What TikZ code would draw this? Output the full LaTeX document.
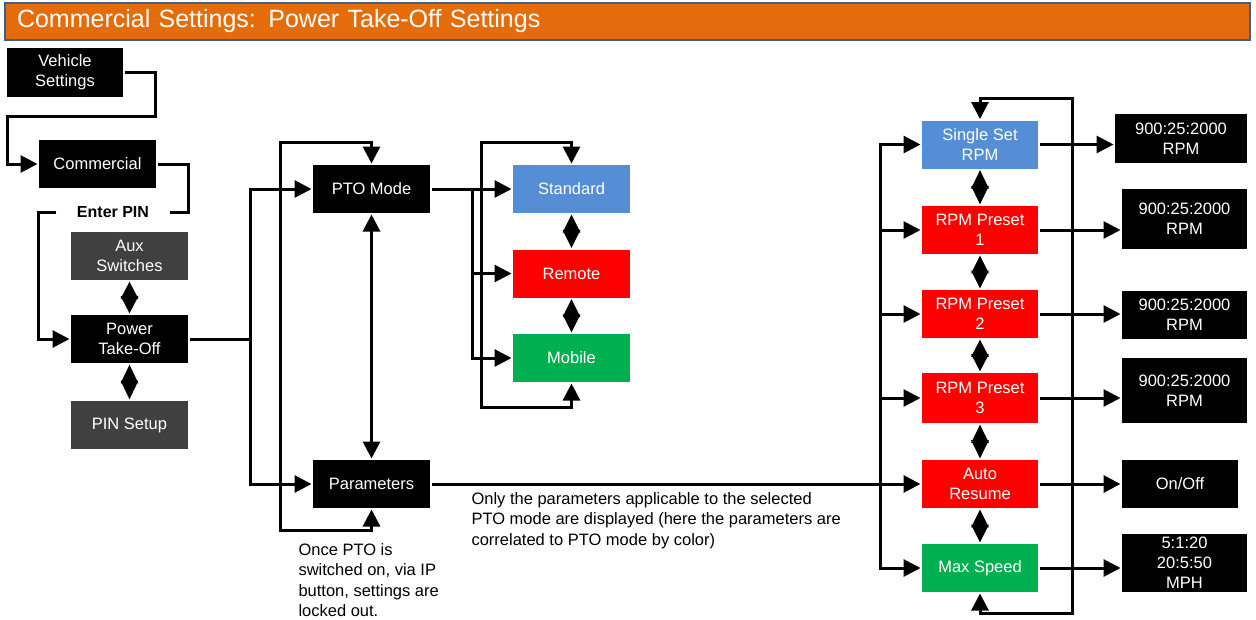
\documentclass[tikz,border=0pt]{standalone}
\usepackage{fontspec}
\setmainfont{Liberation Sans}
\usetikzlibrary{arrows.meta}
\definecolor{ttlorange}{HTML}{E46C0A}
\definecolor{ttlblue}{HTML}{3E5F8A}
\definecolor{darkgrey}{HTML}{404040}
\definecolor{stdblue}{HTML}{558ED5}
\definecolor{remred}{HTML}{FF0000}
\definecolor{mobgreen}{HTML}{00B050}
\tikzset{
    block/.style = {
        shape=rectangle,
        fill=black,
        text=white,
        minimum height=48pt,
        minimum width=117pt,
        inner sep=0pt,
        align=center,
        font=\fontsize{16.5}{20}\selectfont
    },
    greyblock/.style = {block, fill=darkgrey},
    stdblock/.style = {block, fill=stdblue},
    remblock/.style = {block, fill=remred},
    mobblock/.style = {block, fill=mobgreen},
    value/.style = {block, minimum width=125pt},
    header/.style = {
        shape=rectangle,
        fill=ttlorange,
        draw=ttlblue,
        line width=2.5pt,
        minimum width=1245pt,
        minimum height=37pt,
        text width=1221pt,
        inner xsep=12pt,
        inner ysep=0pt,
        align=left,
        text=white,
        font=\fontsize{25}{29}\selectfont
    },
    pinlabel/.style = {
        inner xsep=19pt,
        inner ysep=2pt,
        font=\bfseries\fontsize{16}{19}\selectfont
    },
    note/.style = {
        align=left,
        inner sep=0pt,
        anchor=north west,
        font=\fontsize{16.5}{20.5}\selectfont
    },
    diam/.style = {
        {Triangle[length=#1,width=17pt]}-{Triangle[length=#1,width=17pt]}
    },
    diam/.default=17pt,
    >={Triangle[length=17pt,width=17pt]},
}

\begin{document}
\begin{tikzpicture}[x=1pt, y=-1pt, line width=3pt]
            \useasboundingbox (0,0) rectangle (1256,619);

            \node[header] (title) at (627.5,21.5) {Commercial Settings: Power Take-Off Settings};

            \node[block] (veh) at (65,72.5) [minimum width=116pt, minimum height=49pt] {Vehicle\\Settings};
            \node[block] (com) at (97.5,164) {Commercial};
            \node[pinlabel] (enterpin) at (113,212) {Enter PIN};
            \node[greyblock] (aux) at (129.5,256) {Aux\\Switches};
            \node[block] (pto) at (129.5,339) {Power\\Take-Off};
            \node[greyblock] (pinset) at (129.5,425) {PIN Setup};

            \node[block] (ptomode) at (371.5,189) {PTO Mode};
            \node[block] (params) at (371.5,484) {Parameters};

            \node[stdblock] (standard) at (571.5,189) {Standard};
            \node[remblock] (remote) at (571.5,273.5) {Remote};
            \node[mobblock] (mobile) at (571.5,358) {Mobile};

            \node[stdblock] (single) at (980,144.5) [minimum width=116pt] {Single Set\\RPM};
            \node[remblock] (pre1) at (980,230) [minimum width=116pt] {RPM Preset\\1};
            \node[remblock] (pre2) at (980,314) [minimum width=116pt] {RPM Preset\\2};
            \node[remblock] (pre3) at (980,398) [minimum width=116pt, minimum height=50pt] {RPM Preset\\3};
            \node[remblock] (autores) at (980,484) [minimum width=116pt] {Auto\\Resume};
            \node[mobblock] (maxspeed) at (980,568) [minimum width=116pt] {Max Speed};

            \node[value] (val1) at (1181,138.5) [minimum width=132pt, minimum height=49pt] {900:25:2000\\RPM};
            \node[value] (val2) at (1184.5,219) [minimum height=60pt] {900:25:2000\\RPM};
            \node[value] (val3) at (1184.5,314.5) {900:25:2000\\RPM};
            \node[value] (val4) at (1184.5,390.5) [minimum height=65pt] {900:25:2000\\RPM};
            \node[block] (onoff) at (1180,484) [minimum width=116pt] {On/Off};
            \node[value] (mph) at (1184.5,563) [minimum height=58pt] {5:1:20\\20:5:50\\MPH};

            \node[note] (lockout) at (297,542) {Once PTO is\\switched on, via IP\\button, settings are\\locked out.};
            \node[note] (bycolor) at (470,491) {Only the parameters applicable to the selected\\PTO mode are displayed (here the parameters are\\correlated to PTO mode by color)};

            \coordinate (vehr) at (155,116);
            \coordinate (vehl) at (7,116);
            \coordinate (comr) at (188,212);
            \coordinate (pinl) at (38,339);
            \coordinate (split) at (250,339);
            \coordinate (ltop) at (280,142);
            \coordinate (lbot) at (280,530);
            \coordinate (mbr) at (472,189);
            \coordinate (mtop) at (481,142);
            \coordinate (mbot) at (481,407);
            \coordinate (rsplit) at (880,484);
            \coordinate (rtop) at (1072,98);
            \coordinate (rbot) at (1072,613);

            % left column
            \path[draw, ->] (veh) -| (vehr) -- (vehl) |- (com);
            \path[draw] (com) -| (comr) -- (enterpin);
            \path[draw, ->] (enterpin) -| (pinl) -- (pto);
            \path[draw, diam=17.4pt] (aux) -- (pto);
            \path[draw, diam=18.9pt] (pto) -- (pinset);

            % pto mode / parameters
            \path[draw] (pto) -- (split);
            \path[draw, ->] (split) |- (ptomode);
            \path[draw, ->] (split) |- (params);
            \path[draw, <->] (ptomode) |- (ltop) -- (lbot) -| (params);
            \path[draw, <->] (ptomode) -- (params);

            % modes
            \path[draw, ->] (ptomode) -- (standard);
            \path[draw, ->] (mbr) |- (remote);
            \path[draw, ->] (mbr) |- (mobile);
            \path[draw, <->] (standard) |- (mtop) -- (mbot) -| (mobile);
            \path[draw, diam=18.1pt] (standard) -- (remote);
            \path[draw, diam=18.1pt] (remote) -- (mobile);

            % parameter list
            \path[draw] (params) -- (rsplit);
            \path[draw, ->] (rsplit) |- (single);
            \path[draw, ->] (rsplit) |- (pre1);
            \path[draw, ->] (rsplit) |- (pre2);
            \path[draw, ->] (rsplit) |- (pre3);
            \path[draw, ->] (rsplit) -- (autores);
            \path[draw, ->] (rsplit) |- (maxspeed);
            \path[draw, <->] (single) |- (rtop) -- (rbot) -| (maxspeed);
            \path[draw, diam=18.6pt] (single) -- (pre1);
            \path[draw, diam=17.9pt] (pre1) -- (pre2);
            \path[draw, diam=17.4pt] (pre2) -- (pre3);
            \path[draw, diam=18.4pt] (pre3) -- (autores);
            \path[draw, diam=17.9pt] (autores) -- (maxspeed);

            % values
            \path[draw, ->] (single) -- (single -| val1.west);
            \path[draw, ->] (pre1) -- (pre1 -| val2.west);
            \path[draw, ->] (pre2) -- (pre2 -| val3.west);
            \path[draw, ->] (pre3) -- (pre3 -| val4.west);
            \path[draw, ->] (autores) -- (onoff);
            \path[draw, ->] (maxspeed) -- (maxspeed -| mph.west);
\end{tikzpicture}
\end{document}
